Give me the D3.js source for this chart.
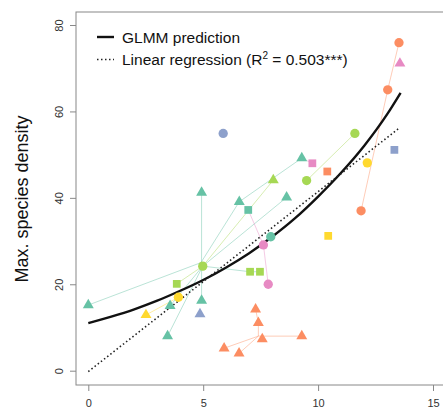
<!DOCTYPE html>
<html>
<head>
<meta charset="utf-8">
<script src="https://cdn.jsdelivr.net/npm/d3@7/dist/d3.min.js"></script>
<style>
	body { margin:0; background:#fff; }
	svg { display:block; font-family:"Liberation Sans", Arial, sans-serif; }
</style>
</head>
<body>
<div id="chart"></div>
<script>
var xTicks = [0, 5, 10, 15];
var yTicks = [0, 20, 40, 60, 80];
var groups = ['teal', 'orange', 'blue', 'pink', 'lime', 'yellow'];
var groupColours = ['#66c2a5', '#fc8d62', '#8da0cb', '#e78ac3', '#a6d854', '#ffd92f'];

// observations : x, max density, site colour, shape
var points = [
	[0.00, 15.2, 'teal', 'triangle'],
	[3.45, 8.0, 'teal', 'triangle'],
	[3.56, 15.0, 'teal', 'triangle'],
	[4.93, 16.2, 'teal', 'triangle'],
	[4.93, 41.2, 'teal', 'triangle'],
	[6.57, 39.1, 'teal', 'triangle'],
	[8.63, 40.1, 'teal', 'triangle'],
	[9.29, 49.2, 'teal', 'triangle'],
	[6.96, 37.2, 'teal', 'square'],
	[7.94, 31.0, 'teal', 'circle'],
	[11.87, 37.0, 'orange', 'circle'],
	[13.03, 65.0, 'orange', 'circle'],
	[13.52, 75.9, 'orange', 'circle'],
	[10.40, 46.1, 'orange', 'square'],
	[7.28, 14.2, 'orange', 'triangle'],
	[7.40, 11.1, 'orange', 'triangle'],
	[7.57, 7.3, 'orange', 'triangle'],
	[9.29, 8.0, 'orange', 'triangle'],
	[5.91, 5.2, 'orange', 'triangle'],
	[6.56, 4.0, 'orange', 'triangle'],
	[5.87, 54.9, 'blue', 'circle'],
	[13.32, 51.1, 'blue', 'square'],
	[4.86, 13.1, 'blue', 'triangle'],
	[13.56, 71.1, 'pink', 'triangle'],
	[9.75, 48.0, 'pink', 'square'],
	[7.62, 29.1, 'pink', 'circle'],
	[7.83, 20.0, 'pink', 'circle'],
	[11.60, 54.9, 'lime', 'circle'],
	[9.50, 44.0, 'lime', 'circle'],
	[4.98, 24.2, 'lime', 'circle'],
	[8.05, 44.1, 'lime', 'triangle'],
	[7.04, 22.9, 'lime', 'square'],
	[7.47, 22.9, 'lime', 'square'],
	[3.85, 20.1, 'lime', 'square'],
	[12.14, 48.1, 'yellow', 'circle'],
	[3.92, 17.0, 'yellow', 'circle'],
	[2.51, 12.9, 'yellow', 'triangle'],
	[10.44, 31.2, 'yellow', 'square']
];

// thin lines joining repeated surveys of a site
var traces = [
	['orange', [[11.87, 37.0], [13.03, 65.0], [13.52, 75.9]]],
	['orange', [[7.28, 14.2], [7.40, 11.1], [7.40, 8.0], [9.29, 8.0]]],
	['orange', [[5.91, 5.2], [7.40, 8.0]]],
	['orange', [[6.56, 4.0], [7.40, 8.0]]],
	['teal', [[4.93, 41.2], [4.93, 16.2]]],
	['teal', [[0.00, 15.2], [4.90, 25.0], [6.57, 39.1], [9.29, 49.2]]],
	['teal', [[4.98, 24.2], [7.04, 22.9], [7.47, 22.9]]],
	['teal', [[3.45, 8.0], [4.98, 24.2]]],
	['teal', [[3.56, 15.0], [4.98, 24.2]]],
	['teal', [[4.98, 24.2], [8.63, 40.1]]],
	['lime', [[4.98, 24.2], [8.05, 44.1]]],
	['lime', [[3.85, 20.1], [4.98, 24.2]]],
	['lime', [[9.50, 44.0], [11.60, 54.9]]],
	['yellow', [[2.51, 12.9], [3.92, 17.0]]],
	['pink', [[6.96, 37.2], [7.62, 29.1], [7.83, 20.0]]],
	['pink', [[9.75, 48.0], [9.29, 49.2]]]
];

// model curves
var glmmX = [0, 1, 2, 3, 4, 5, 6, 7, 8, 9, 10, 11, 12, 13, 13.59];
var glmmY = [11.0, 12.5, 14.2, 16.2, 18.5, 21.0, 23.9, 27.2, 31.0, 35.3, 40.3, 45.8, 52.0, 59.3, 64.3];
var lmX = [0, 13.52];
var lmY = [-0.2, 56.1];

var legendText = ['GLMM prediction', 'Linear regression (R'];

var chart = {
	svg : null,
	x : null,
	y : null,
	colour : null,
	init : function(elem){
		this.svg = d3.select(elem).append('svg')
			.attr('width', 443)
			.attr('height', 408);
		this.x = d3.scaleLinear().domain([0, 15]).range([88.3, 433]);
		this.y = d3.scaleLinear().domain([0, 80]).range([370.7, 25]);
		this.colour = d3.scaleOrdinal().domain(groups).range(groupColours);
		this.drawAxes();
		this.drawTraces();
		this.drawCurves();
		this.drawPoints();
		this.drawLegend();
	},
	drawAxes : function(){
		var svg = this.svg;
		// plot box (right edge falls outside the picture)
		svg.append('rect')
			.attr('x', 76).attr('y', 12)
			.attr('width', 400).attr('height', 373)
			.attr('fill', 'none')
			.attr('stroke', '#888')
			.attr('stroke-width', 1);

		var ax = svg.append('g')
			.attr('transform', 'translate(0,385)')
			.call(d3.axisBottom(this.x).tickValues(xTicks).tickSize(6).tickPadding(8));
		ax.select('.domain').remove();
		ax.selectAll('line').attr('stroke', '#888');
		ax.selectAll('text').attr('font-size', 11).attr('fill', '#333')
			.attr('font-family', '"Liberation Sans", Arial, sans-serif');

		var ay = svg.append('g')
			.attr('transform', 'translate(76,0)')
			.call(d3.axisLeft(this.y).tickValues(yTicks).tickSize(6));
		ay.select('.domain').remove();
		ay.selectAll('line').attr('stroke', '#888');
		ay.selectAll('text')
			.attr('font-size', 11).attr('fill', '#333')
			.attr('font-family', '"Liberation Sans", Arial, sans-serif')
			.attr('x', null).attr('dy', null)
			.attr('text-anchor', 'middle')
			.attr('transform', 'translate(-13,0) rotate(-90)')
			.attr('y', 0);

		svg.append('text')
			.attr('transform', 'translate(28,199) rotate(-90)')
			.attr('text-anchor', 'middle')
			.attr('font-size', 18)
			.attr('fill', '#111')
			.text('Max. species density');
	},
	drawTraces : function(){
		var _self = this;
		var line = d3.line()
			.x(function(d){ return _self.x(d[0]); })
			.y(function(d){ return _self.y(d[1]); });
		this.svg.append('g').attr('class', 'traces')
			.selectAll('path')
			.data(traces)
			.enter()
			.append('path')
			.attr('d', function(d){ return line(d[1]); })
			.attr('fill', 'none')
			.attr('stroke', function(d){ return _self.colour(d[0]); })
			.attr('stroke-opacity', 0.45)
			.attr('stroke-width', 1);
	},
	drawCurves : function(){
		var _self = this;
		var glmm = d3.zip(glmmX, glmmY);
		var lm = d3.zip(lmX, lmY);
		this.svg.append('path')
			.attr('d', d3.line().curve(d3.curveMonotoneX)
				.x(function(d){ return _self.x(d[0]); })
				.y(function(d){ return _self.y(d[1]); })(glmm))
			.attr('fill', 'none')
			.attr('stroke', '#111')
			.attr('stroke-width', 2.4);
		this.svg.append('path')
			.attr('d', d3.line()
				.x(function(d){ return _self.x(d[0]); })
				.y(function(d){ return _self.y(d[1]); })(lm))
			.attr('fill', 'none')
			.attr('stroke', '#222')
			.attr('stroke-width', 1.6)
			.attr('stroke-dasharray', '1.5,2.5');
	},
	drawPoints : function(){
		var _self = this;
		var sizes = { circle : 68, square : 60, triangle : 52 };
		var types = { circle : d3.symbolCircle, square : d3.symbolSquare, triangle : d3.symbolTriangle };
		this.svg.append('g').attr('class', 'points')
			.selectAll('path')
			.data(points)
			.enter()
			.append('path')
			.attr('transform', function(d){
				return 'translate(' + _self.x(d[0]) + ',' + _self.y(d[1]) + ')';
			})
			.attr('d', function(d){
				return d3.symbol().type(types[d[3]]).size(sizes[d[3]])();
			})
			.attr('fill', function(d){ return _self.colour(d[2]); });
	},
	drawLegend : function(){
		var svg = this.svg;
		var g = svg.append('g').attr('class', 'legend');
		g.append('line')
			.attr('x1', 97).attr('x2', 114).attr('y1', 37).attr('y2', 37)
			.attr('stroke', '#111').attr('stroke-width', 2.4);
		g.append('line')
			.attr('x1', 97).attr('x2', 114).attr('y1', 59.5).attr('y2', 59.5)
			.attr('stroke', '#222').attr('stroke-width', 1.4)
			.attr('stroke-dasharray', '1.5,2.5');
		g.append('text')
			.attr('x', 122).attr('y', 42.5)
			.attr('font-size', 15.5).attr('fill', '#111')
			.text(legendText[0]);
		var t = g.append('text')
			.attr('x', 122).attr('y', 65)
			.attr('font-size', 15.5).attr('fill', '#111');
		t.append('tspan').text(legendText[1]);
		t.append('tspan').attr('font-size', 10).attr('dy', -6).text('2');
		t.append('tspan').attr('dy', 6).text(' = 0.503***)');
	}
};

chart.init('#chart');
</script>
</body>
</html>
